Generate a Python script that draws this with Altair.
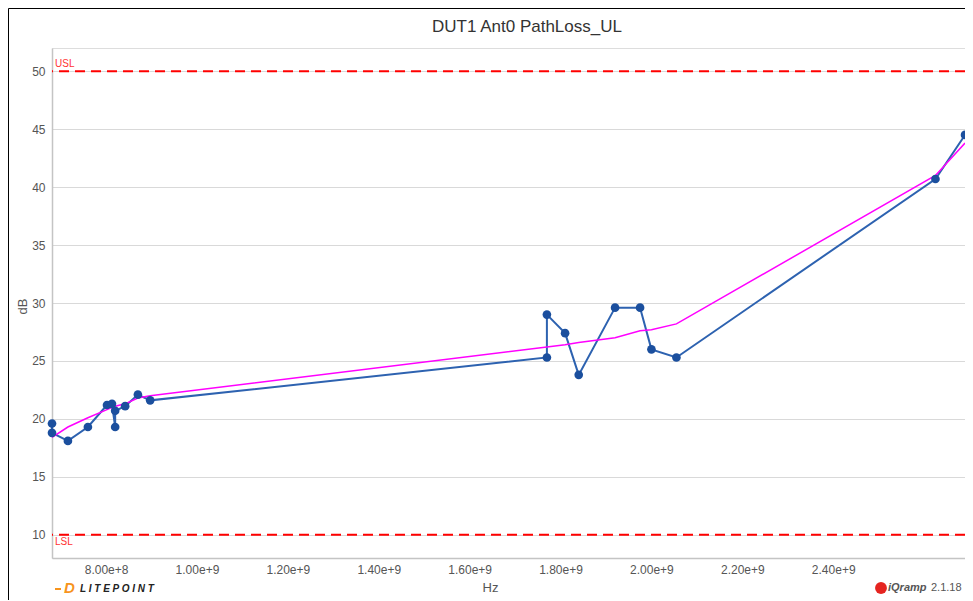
import altair as alt
import pandas as pd

# ---- data ----
freq_mhz = [681, 681, 716, 760, 802, 813, 820, 820, 842, 870, 897,
            1770, 1770, 1810, 1840, 1920, 1975, 2000, 2055, 2625, 2690]
pathloss_db = [19.6, 18.8, 18.1, 19.3, 21.2, 21.3, 19.3, 20.7, 21.1, 22.1, 21.6,
               25.3, 29.0, 27.4, 23.8, 29.6, 29.6, 26.0, 25.3, 40.7, 44.5]
fit_freq_mhz = [681, 716, 760, 802, 820, 842, 870, 897,
                1770, 1810, 1840, 1920, 1975, 2000, 2055, 2625, 2690]
fit_db = [18.4, 19.3, 20.1, 20.8, 21.1, 21.3, 21.8, 22.0,
          26.2, 26.4, 26.6, 27.0, 27.6, 27.7, 28.2, 41.0, 43.8]
limit_names = ["USL", "LSL"]
limit_values = [50, 10]
x_ticks = [8.0e8, 1.0e9, 1.2e9, 1.4e9, 1.6e9, 1.8e9, 2.0e9, 2.2e9, 2.4e9]
y_ticks = [10, 15, 20, 25, 30, 35, 40, 45, 50]
x_domain = [681e6, 2690e6]
y_domain = [8, 52]
chart_title = "DUT1 Ant0 PathLoss_UL"

meas = pd.DataFrame({
    "idx": list(range(len(freq_mhz))),
    "Hz": [f * 1e6 for f in freq_mhz],
    "dB": pathloss_db,
})
fit = pd.DataFrame({"Hz": [f * 1e6 for f in fit_freq_mhz], "dB": fit_db})
limits = pd.DataFrame({"name": limit_names, "value": limit_values})

W, H = 913, 510
FONT = "Liberation Sans"

xs = alt.Scale(domain=x_domain, nice=False, zero=False)
ys = alt.Scale(domain=y_domain, nice=False, zero=False)

x_enc = alt.X("Hz:Q", scale=xs, axis=alt.Axis(
    title="Hz", values=x_ticks, format=".2e", grid=False, ticks=False,
    domainColor="#c4c4c4", domainWidth=1.5, labelColor="#555555", labelFontSize=12,
    labelPadding=6, labelFont=FONT, titleFont=FONT, titleFontSize=13,
    titleFontWeight="normal", titleColor="#555555", titleX=438, titleY=29,
    titleBaseline="middle", titleAlign="center"))
y_enc = alt.Y("dB:Q", scale=ys, axis=alt.Axis(
    title="dB", values=y_ticks, grid=True, gridColor="#d9d9d9", ticks=False,
    domainColor="#c4c4c4", domainWidth=1.5, labelColor="#555555", labelFontSize=12,
    labelPadding=7, labelFont=FONT, titleFont=FONT, titleFontSize=13,
    titleFontWeight="normal", titleColor="#555555", titleX=-30, titleY=258,
    titleBaseline="middle", titleAlign="center"))

base_m = alt.Chart(meas)

limit_rules = alt.Chart(limits).mark_rule(
    color="#ff0000", strokeDash=[10, 6], strokeWidth=2
).encode(y=alt.Y("value:Q", scale=ys))

usl_label = alt.Chart(limits[limits["name"] == "USL"]).mark_text(
    align="left", baseline="bottom", dx=3, dy=-2, color="#ff3333",
    fontSize=10, font=FONT
).encode(x=alt.datum(x_domain[0], scale=xs), y=alt.Y("value:Q", scale=ys), text="name:N")

lsl_label = alt.Chart(limits[limits["name"] == "LSL"]).mark_text(
    align="left", baseline="top", dx=3, dy=2, color="#ff3333",
    fontSize=10, font=FONT
).encode(x=alt.datum(x_domain[0], scale=xs), y=alt.Y("value:Q", scale=ys), text="name:N")

fit_line = alt.Chart(fit).mark_line(color="#ff00ff", strokeWidth=1.5).encode(
    x=alt.X("Hz:Q", scale=xs), y=alt.Y("dB:Q", scale=ys))

meas_line = base_m.mark_line(color="#2d62b0", strokeWidth=2).encode(
    x=x_enc, y=y_enc, order=alt.Order("idx:Q"))

meas_pts = base_m.mark_circle(size=75, color="#1b4f9e", opacity=1).encode(
    x=alt.X("Hz:Q", scale=xs), y=alt.Y("dB:Q", scale=ys))

one = pd.DataFrame({"k": [0]})
deco = alt.Chart(one)
title_txt = deco.mark_text(text=chart_title, font=FONT, fontSize=17,
                           color="#333333", align="center",
                           baseline="middle").encode(x=alt.value(475), y=alt.value(-21))
frame_top = deco.mark_rule(color="#000000", strokeWidth=1).encode(
    x=alt.value(-43.5), x2=alt.value(W + 10), y=alt.value(-39.5))
frame_left = deco.mark_rule(color="#000000", strokeWidth=1).encode(
    x=alt.value(-43.5), y=alt.value(-39.5), y2=alt.value(H + 45))

lp_icon = deco.mark_text(text="D", font=FONT, fontSize=15, fontWeight="bold",
                         fontStyle="italic", color="#f7941d", align="left",
                         baseline="middle").encode(x=alt.value(12), y=alt.value(540))
lp_dash = deco.mark_rule(color="#f7941d", strokeWidth=2).encode(
    x=alt.value(3), x2=alt.value(9), y=alt.value(541))
lp_text = deco.mark_text(text="L I T E P O I N T", font=FONT, fontSize=10,
                         fontWeight="bold", fontStyle="italic", color="#222222",
                         align="left", baseline="middle").encode(
    x=alt.value(28), y=alt.value(541))
iq_dot = deco.mark_circle(size=140, color="#e52420", opacity=1).encode(
    x=alt.value(829), y=alt.value(540))
iq_text = deco.mark_text(text="iQramp", font=FONT, fontSize=11, fontWeight="bold",
                         fontStyle="italic", color="#555555", align="left",
                         baseline="middle").encode(x=alt.value(836), y=alt.value(540))
iq_ver = deco.mark_text(text="2.1.18", font=FONT, fontSize=11, color="#555555",
                        align="left", baseline="middle").encode(
    x=alt.value(879), y=alt.value(540))

chart = alt.layer(
    meas_line, limit_rules, usl_label, lsl_label, fit_line, meas_pts, title_txt,
    frame_top, frame_left, lp_dash, lp_icon, lp_text, iq_dot, iq_text, iq_ver
).properties(
    width=W, height=H,
    autosize=alt.AutoSizeParams(type="none"),
    padding={"left": 44, "top": 40, "right": 0, "bottom": 42},
).configure_view(stroke=None).configure(background="#ffffff")

chart.save("out.html", embed_options={"renderer": "svg", "actions": False})
